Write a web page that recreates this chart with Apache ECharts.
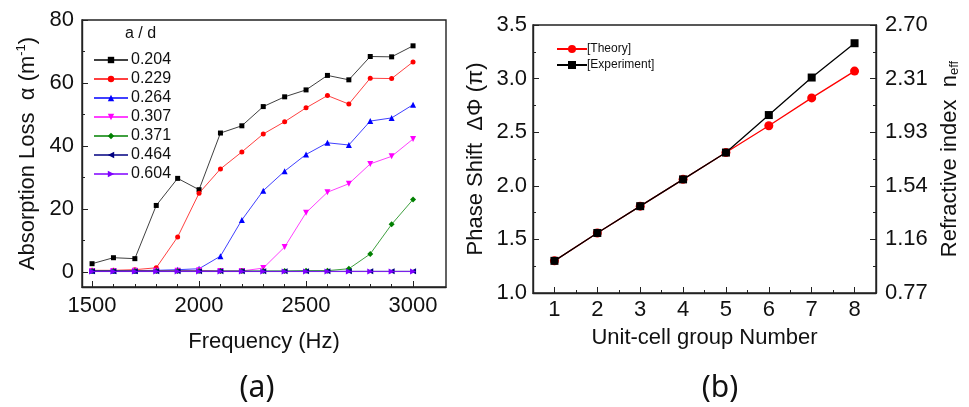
<!DOCTYPE html>
<html>
<head>
<meta charset="utf-8">
<script src="https://cdn.jsdelivr.net/npm/echarts@6/dist/echarts.min.js"></script>
<style>
html,body{margin:0;padding:0;background:#fff;}
#main{width:969px;height:407px;}
</style>
</head>
<body>
<div id="main"></div>
<script>
// (a) absorption loss vs frequency
var freq=[1500,1600,1700,1800,1900,2000,2100,2200,2300,2400,2500,2600,2700,2800,2900,3000];
var ad0204=[2.6,4.5,4.2,21.1,29.7,26.1,44.1,46.4,52.5,55.6,57.8,62.4,61.0,68.4,68.3,71.8];
var ad0229=[0.5,0.5,0.7,1.3,11.1,25.0,32.7,38.1,43.8,47.7,52.1,56.0,53.3,61.5,61.4,66.7];
var ad0264=[0.4,0.4,0.4,0.5,0.7,1.0,5.0,16.5,25.8,32.0,37.3,41.0,40.3,47.9,48.9,53.1];
var ad0307=[0.3,0.3,0.4,0.4,0.4,0.5,0.3,0.3,1.2,7.9,18.8,25.3,28.0,34.3,36.7,42.2];
var ad0371=[0.3,0.3,0.3,0.3,0.3,0.3,0.3,0.3,0.3,0.3,0.4,0.4,1.0,5.7,15.1,23.0];
var ad0464=[0.2,0.2,0.2,0.2,0.2,0.2,0.2,0.2,0.2,0.2,0.2,0.2,0.2,0.2,0.2,0.2];
var ad0604=[0.1,0.1,0.1,0.1,0.1,0.1,0.1,0.1,0.1,0.1,0.1,0.1,0.1,0.1,0.1,0.1];
var freqTicks=[1500,2000,2500,3000];
var lossTicks=[0,20,40,60,80];

// (b) phase shift vs unit-cell group
var groupNo=[1,2,3,4,5,6,7,8];
var theory=[1.30,1.56,1.81,2.06,2.31,2.56,2.82,3.07];
var experiment=[1.30,1.56,1.81,2.06,2.31,2.66,3.01,3.33];
var nTicks=[0.77,1.156,1.542,1.928,2.314,2.70];

var FONT='Liberation Sans';
var axisCol='#222';

function pairs(xs,ys){
    var out=[];
    for(var i=0;i<xs.length;i++){ out.push([xs[i],ys[i]]); }
    return out;
}
function between(list,step){
    var out=[];
    for(var i=0;i<list.length-1;i++){
        for(var v=list[i]+step;v<list[i+1]-step/2;v+=step){ out.push(+v.toFixed(4)); }
    }
    return out;
}

var lossSeries=[
    {name:'0.204',data:ad0204,color:'#000000',symbol:'rect',rot:0,size:5},
    {name:'0.229',data:ad0229,color:'#ff0000',symbol:'circle',rot:0,size:5},
    {name:'0.264',data:ad0264,color:'#0000ff',symbol:'triangle',rot:0,size:6},
    {name:'0.307',data:ad0307,color:'#ff00ff',symbol:'triangle',rot:180,size:6},
    {name:'0.371',data:ad0371,color:'#008000',symbol:'diamond',rot:0,size:6},
    {name:'0.464',data:ad0464,color:'#000080',symbol:'triangle',rot:90,size:6},
    {name:'0.604',data:ad0604,color:'#7f00ff',symbol:'triangle',rot:-90,size:6}
];

var series=[];
for(var i=0;i<lossSeries.length;i++){
    var s=lossSeries[i];
    series.push({
        name:s.name,type:'line',xAxisIndex:0,yAxisIndex:0,
        data:pairs(freq,s.data),
        symbol:s.symbol,symbolRotate:s.rot,symbolSize:s.size,
        itemStyle:{color:s.color},
        lineStyle:{color:s.color,width:1,opacity:0.75},
        z:2+i
    });
}
series.push({
    name:'[Theory]',type:'line',xAxisIndex:2,yAxisIndex:2,
    data:pairs(groupNo,theory),symbol:'circle',symbolSize:9,
    itemStyle:{color:'#ff0000'},lineStyle:{color:'#ff0000',width:1.3}
});
series.push({
    name:'[Experiment]',type:'line',xAxisIndex:2,yAxisIndex:2,
    data:pairs(groupNo,experiment),symbol:'rect',symbolSize:8,
    itemStyle:{color:'#000000'},lineStyle:{color:'#000000',width:1.3},z:5
});

var nameStyle={color:'#111',fontFamily:FONT,fontSize:22};
function plain(v){ return String(v); }

var option={
    backgroundColor:'#fff',
    animation:false,
    title:[
        {text:'(a)',left:252,top:383,textAlign:'center',textVerticalAlign:'middle',
            textStyle:{fontFamily:'Noto Sans',fontSize:30,fontWeight:'normal',color:'#111'}},
        {text:'(b)',left:715,top:383,textAlign:'center',textVerticalAlign:'middle',
            textStyle:{fontFamily:'Noto Sans',fontSize:30,fontWeight:'normal',color:'#111'}}
    ],
    graphic:[
        {type:'text',left:125,top:26,style:{text:'a / d',fontFamily:FONT,fontSize:16,fill:'#111'}}
    ],
    legend:[
        {data:['0.204','0.229','0.264','0.307','0.371','0.464','0.604'],
            orient:'vertical',left:88,top:47,itemWidth:34,itemHeight:8,itemGap:3,
            textStyle:{fontFamily:FONT,fontSize:16,color:'#111',padding:[0,0,0,-2]}},
        {data:['[Theory]','[Experiment]'],
            orient:'vertical',left:551,top:38,itemWidth:30,itemHeight:10,itemGap:4,
            textStyle:{fontFamily:FONT,fontSize:12,color:'#111',padding:[0,0,0,-5]}}
    ],
    grid:[
        {left:82,top:20,width:364,height:267,show:true,borderColor:axisCol,borderWidth:1.4,backgroundColor:'transparent'},
        {left:533,top:25,width:343,height:268,show:true,borderColor:axisCol,borderWidth:1.4,backgroundColor:'transparent'}
    ],
    xAxis:[
        {gridIndex:0,type:'value',min:1453,max:3154,position:'bottom',
            axisLine:{onZero:false,lineStyle:{color:axisCol,width:1.4}},
            axisTick:{inside:true,length:6,customValues:freqTicks,lineStyle:{color:axisCol}},
            axisLabel:{customValues:freqTicks,margin:8,color:'#111',fontFamily:FONT,fontSize:22,formatter:plain},
            splitLine:{show:false},
            name:'Frequency (Hz)',nameLocation:'middle',nameGap:44,nameTextStyle:nameStyle},
        {gridIndex:0,type:'value',min:1453,max:3154,position:'bottom',
            axisLine:{show:false,onZero:false},axisLabel:{show:false},splitLine:{show:false},
            axisTick:{inside:true,length:3,customValues:between(freqTicks,100),lineStyle:{color:axisCol}}},
        {gridIndex:1,type:'value',min:0.5,max:8.5,position:'bottom',
            axisLine:{onZero:false,lineStyle:{color:axisCol,width:1.4}},
            axisTick:{inside:true,length:6,customValues:groupNo,lineStyle:{color:axisCol}},
            axisLabel:{customValues:groupNo,margin:6,color:'#111',fontFamily:FONT,fontSize:22,formatter:plain},
            splitLine:{show:false},
            name:'Unit-cell group Number',nameLocation:'middle',nameGap:34,nameTextStyle:nameStyle},
        {gridIndex:1,type:'value',min:0.5,max:8.5,position:'bottom',
            axisLine:{show:false,onZero:false},axisLabel:{show:false},splitLine:{show:false},
            axisTick:{inside:true,length:3,customValues:between(groupNo,0.5),lineStyle:{color:axisCol}}}
    ],
    yAxis:[
        {gridIndex:0,type:'value',min:-4.8,max:80,position:'left',
            axisLine:{onZero:false,lineStyle:{color:axisCol,width:1.4}},
            axisTick:{inside:true,length:6,customValues:lossTicks,lineStyle:{color:axisCol}},
            axisLabel:{customValues:lossTicks,margin:8,color:'#111',fontFamily:FONT,fontSize:22,formatter:plain},
            splitLine:{show:false},
            name:'{t|Absorption Loss  α (m}{s|-1}{t|)}',nameLocation:'middle',nameGap:42,nameRotate:90,
            nameTextStyle:{rich:{
                t:{fontFamily:FONT,fontSize:22,color:'#111'},
                s:{fontFamily:FONT,fontSize:13,color:'#111',verticalAlign:'top',padding:[0,0,12,0]}
            }}},
        {gridIndex:0,type:'value',min:-4.8,max:80,position:'left',
            axisLine:{show:false,onZero:false},axisLabel:{show:false},splitLine:{show:false},
            axisTick:{inside:true,length:3,customValues:between(lossTicks,10),lineStyle:{color:axisCol}}},
        {gridIndex:1,type:'value',min:1,max:3.5,interval:0.5,position:'left',
            axisLine:{onZero:false,lineStyle:{color:axisCol,width:1.4}},
            axisTick:{inside:true,length:6,lineStyle:{color:axisCol}},
            minorTick:{show:true,splitNumber:2,length:3,lineStyle:{color:axisCol}},
            axisLabel:{margin:6,color:'#111',fontFamily:FONT,fontSize:22,
                formatter:function(v){return v.toFixed(1);}},
            splitLine:{show:false},
            name:'Phase Shift  ΔΦ (π)',nameLocation:'middle',nameGap:46,nameRotate:90,nameTextStyle:nameStyle},
        {gridIndex:1,type:'value',min:0.77,max:2.70,position:'right',
            axisLine:{onZero:false,lineStyle:{color:axisCol,width:1.4}},
            axisTick:{inside:true,length:6,customValues:nTicks,lineStyle:{color:axisCol}},
            axisLabel:{customValues:nTicks,margin:9,color:'#111',fontFamily:FONT,fontSize:22,
                formatter:function(v){return v.toFixed(2);}},
            splitLine:{show:false},
            name:'{t|Refractive index  n}{s|eff}',nameLocation:'middle',nameGap:62,nameRotate:90,
            nameTextStyle:{rich:{
                t:{fontFamily:FONT,fontSize:22,color:'#111'},
                s:{fontFamily:FONT,fontSize:13,color:'#111',verticalAlign:'bottom',padding:[10,0,0,0]}
            }}},
        {gridIndex:1,type:'value',min:0.77,max:2.70,position:'right',
            axisLine:{show:false,onZero:false},axisLabel:{show:false},splitLine:{show:false},
            axisTick:{inside:true,length:3,customValues:between(nTicks,0.193),lineStyle:{color:axisCol}}}
    ],
    series:series
};

var chart=echarts.init(document.getElementById('main'));
chart.setOption(option);
</script>
</body>
</html>
